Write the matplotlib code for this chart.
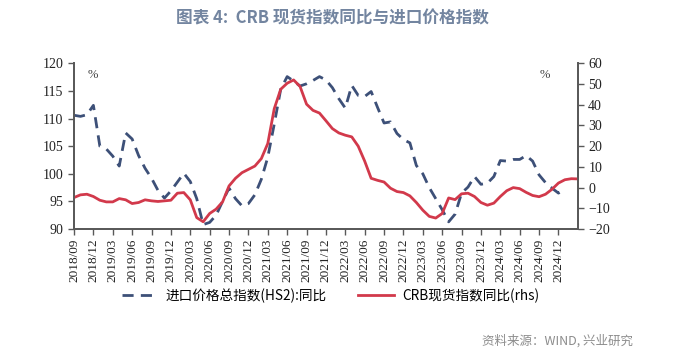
import numpy as np
import pandas as pd
import matplotlib
matplotlib.use('Agg')
import matplotlib.pyplot as plt

# 月度数据 2018/09 起
start_month = '2018-09'

# 进口价格总指数(HS2):同比 (左轴)
import_price = [110.6, 110.4, 110.7, 112.4, 105.0, 104.5, 103.2, 101.4, 107.4, 106.3,
                103.3, 101.0, 99.2, 97.0, 95.6, 96.9, 98.5, 100.1, 98.6, 95.5,
                90.8, 91.2, 92.5, 95.0, 97.4, 95.5, 94.2, 94.6, 96.2, 99.0,
                103.0, 109.0, 115.3, 117.6, 116.8, 115.9, 116.3, 116.9, 117.6, 117.0,
                115.6, 113.6, 111.9, 116.0, 114.2, 114.0, 114.9, 112.0, 109.2, 109.4,
                107.3, 106.2, 105.6, 101.5, 100.0, 97.5, 95.5, 93.5, 91.3, 92.7,
                96.5, 97.6, 99.5, 98.1, 98.3, 99.5, 102.4, 102.3, 102.6, 102.6,
                103.3, 102.3, 99.8, 98.4, 97.4, 96.5, 97.2]

# CRB现货指数同比 (右轴, %)
crb_yoy = [-4.8, -3.5, -3.2, -4.3, -6.1, -6.9, -6.9, -5.3, -5.9, -7.7,
           -7.2, -5.9, -6.4, -6.7, -6.4, -6.1, -2.7, -2.4, -5.9, -14.5,
           -16.5, -12.5, -10.4, -6.9, 0.8, 4.5, 7.2, 8.8, 10.4, 14.0,
           21.3, 38.1, 47.5, 50.4, 52.0, 48.8, 40.3, 37.3, 36.0, 32.3,
           28.5, 26.4, 25.3, 24.5, 20.0, 12.8, 4.5, 3.5, 2.7, -0.3,
           -1.9, -2.4, -4.0, -7.2, -10.9, -13.9, -14.7, -12.5, -5.0, -5.8,
           -3.0, -2.7, -4.3, -7.2, -8.5, -7.5, -4.3, -1.5, 0.0, -0.5,
           -2.3, -3.8, -4.4, -3.2, -0.8, 2.2, 3.8, 4.3, 4.2]

months = pd.date_range(start_month, periods=len(crb_yoy), freq='MS')
tick_idx = np.arange(0, 76, 3)
tick_labels = [months[i].strftime('%Y/%m') for i in tick_idx]

blue = '#3d5078'
red = '#d2394b'
axis_gray = '#595959'
cjk = ['Noto Sans CJK SC', 'DejaVu Sans']

fig = plt.figure(figsize=(6.79, 3.57), dpi=100)
ax = fig.add_axes([0.109, 0.3585, 0.742, 0.464])
ax2 = ax.twinx()

l1, = ax.plot(np.arange(len(import_price)), import_price, color=blue, lw=2.0,
              dashes=(4, 2.6), label='进口价格总指数(HS2):同比')
l2, = ax2.plot(np.arange(len(crb_yoy)), crb_yoy, color=red, lw=2.0,
               label='CRB现货指数同比(rhs)')

ax.set_xlim(0, 78)
ax.set_ylim(90, 120)
ax.set_yticks(range(90, 121, 5))
ax2.set_ylim(-20, 60)
ax2.set_yticks(range(-20, 61, 10))
ax.set_xticks(tick_idx)
ax.set_xticklabels(tick_labels, rotation=90)

for a in (ax, ax2):
    a.spines['top'].set_visible(False)
    for s in ('left', 'right', 'bottom'):
        a.spines[s].set_color(axis_gray)
        a.spines[s].set_linewidth(1.3)
    a.tick_params(colors='#222222', labelsize=10, length=4, width=1, direction='out')
    for t in a.get_xticklabels() + a.get_yticklabels():
        t.set_family('Liberation Serif')
ax.tick_params(axis='x', labelsize=9.5, pad=3)
ax.tick_params(axis='both', color=axis_gray)
ax2.tick_params(axis='y', color=axis_gray)

ax.text(0.038, 0.93, '%', transform=ax.transAxes, fontsize=9, color='#444444',
        family='Liberation Serif', ha='center', va='center')
ax.text(0.935, 0.93, '%', transform=ax.transAxes, fontsize=9, color='#444444',
        family='Liberation Serif', ha='center', va='center')

fig.text(0.49, 0.948, '图表 4:  CRB 现货指数同比与进口价格指数', ha='center', va='center',
         fontsize=12, fontweight='bold', color='#7385a0', family=cjk)

leg = fig.legend(handles=[l1, l2], loc='center', bbox_to_anchor=(0.487, 0.171), ncol=2,
                 frameon=False, prop={'family': cjk, 'size': 9.8}, handlelength=2.6,
                 columnspacing=2.3, handletextpad=0.6)

fig.text(0.932, 0.045, '资料来源：WIND, 兴业研究', ha='right', va='center',
         fontsize=9, color='#8c8c8c', family=cjk)

fig.savefig('out.png', dpi=100)
